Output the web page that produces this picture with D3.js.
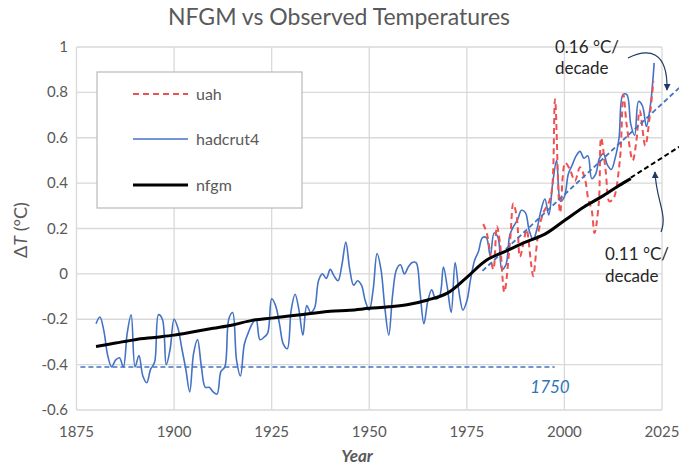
<!DOCTYPE html>
<html>
<head>
<meta charset="utf-8">
<script src="https://cdn.jsdelivr.net/npm/d3@7"></script>
<style>
body{margin:0;background:#fff}
svg text{font-family:Lato,"Open Sans",sans-serif;fill:#595959}
</style>
</head>
<body>
<svg id="chart" width="679" height="468"></svg>
<script>
// hadcrut4 annual anomaly, 1880..2023
var hadcrutFirstYear = 1880;
var hadcrutValues = [
 -0.22,-0.19,-0.25,-0.36,-0.41,-0.38,-0.37,-0.41,-0.26,-0.18,
 -0.41,-0.36,-0.45,-0.48,-0.42,-0.39,-0.18,-0.20,-0.40,-0.33,
 -0.20,-0.24,-0.33,-0.42,-0.52,-0.35,-0.29,-0.41,-0.50,-0.50,
 -0.52,-0.53,-0.43,-0.41,-0.20,-0.17,-0.38,-0.45,-0.31,-0.26,
 -0.22,-0.20,-0.29,-0.28,-0.26,-0.11,-0.14,-0.22,-0.31,-0.33,
 -0.16,-0.09,-0.16,-0.27,-0.14,-0.17,-0.15,-0.03,0.00,-0.02,
 0.02,-0.01,-0.03,0.04,0.14,0.02,-0.05,-0.03,-0.05,-0.12,
 -0.16,-0.07,0.09,0.02,-0.15,-0.27,-0.09,0.02,0.04,0.00,
 0.03,0.05,0.05,-0.08,-0.22,-0.12,-0.07,-0.11,-0.10,0.03,
 -0.06,-0.17,0.05,-0.08,-0.16,-0.12,-0.02,0.06,0.10,0.16,
 0.16,0.08,0.18,0.16,0.02,0.04,0.17,0.21,0.24,0.28,
 0.27,0.19,0.15,0.20,0.28,0.33,0.26,0.40,0.50,0.32,
 0.34,0.44,0.48,0.52,0.54,0.51,0.52,0.42,0.44,0.51,
 0.53,0.48,0.46,0.51,0.60,0.79,0.79,0.66,0.61,0.76,
 0.74,0.65,0.74,0.93
];
// uah (satellite), positions as read
var uahYears = [1979.2,1980.1,1981.8,1982.7,1983.5,1984.6,1986.1,1986.9,1987.8,1988.6,
 1989.5,1990.3,1991.5,1992.0,1993.3,1994.6,1995.9,1996.8,1997.6,1998.9,
 2000.2,2001.4,2002.7,2004.0,2005.3,2006.1,2007.0,2007.7,2008.8,2009.4,
 2010.6,2011.5,2012.5,2014.2,2015.1,2016.0,2017.5,2018.4,2019.3,2020.7,
 2021.8,2022.8];
var uahValues = [0.22,0.18,0.02,0.21,0.135,-0.08,0.15,0.31,0.25,0.075,
 0.135,0.195,0.04,-0.01,0.18,0.27,0.31,0.37,0.77,0.27,
 0.49,0.46,0.41,0.47,0.415,0.33,0.28,0.18,0.31,0.60,
 0.45,0.32,0.33,0.50,0.79,0.65,0.50,0.58,0.72,0.565,
 0.685,0.85];
// nfgm model
var nfgmYears = [1880,1885,1890,1895,1900,1905,1910,1915,1920,1925,1930,1935,1940,1945,
 1950,1955,1960,1965,1970,1975,1980,1985,1990,1995,2000,2005,2010,2015,2017];
var nfgmValues = [-0.32,-0.305,-0.29,-0.28,-0.27,-0.255,-0.24,-0.225,-0.205,-0.195,-0.185,-0.175,-0.165,-0.16,
 -0.152,-0.145,-0.135,-0.115,-0.085,-0.015,0.06,0.10,0.14,0.175,0.235,0.295,0.345,0.40,0.42];
// trend lines (start year, end year, start value, end value)
var hadTrend = [1979, 2029.4, 0.013, 0.82];
var nfgmTrend = [2017, 2029.4, 0.424, 0.56];
// 1750 reference level
var level1750 = -0.41, level1750Span = [1876, 1997.5];
var xTicks = [1875,1900,1925,1950,1975,2000,2025];
var yTicks = [-0.6,-0.4,-0.2,0,0.2,0.4,0.6,0.8,1];

var svg = d3.select("#chart");
var x = d3.scaleLinear().domain([1875, 2025]).range([76.5, 662]);
var y = d3.scaleLinear().domain([-0.6, 1]).range([410, 47]);

var grid = svg.append("g");
grid.selectAll(".hg").data(yTicks).enter().append("line")
    .attr("x1", x(1875)).attr("x2", x(2025))
    .attr("y1", function(d){return y(d);}).attr("y2", function(d){return y(d);})
    .attr("stroke", "#d9d9d9").attr("stroke-width", 1.3);
grid.selectAll(".vg").data(xTicks).enter().append("line")
    .attr("x1", function(d){return x(d);}).attr("x2", function(d){return x(d);})
    .attr("y1", y(1)).attr("y2", y(-0.6))
    .attr("stroke", "#d9d9d9").attr("stroke-width", 1.3);

// tick labels
svg.append("g").selectAll("text").data(yTicks).enter().append("text")
    .attr("x", 68).attr("y", function(d){return y(d) + 5;})
    .attr("text-anchor", "end").style("font-size", "15px")
    .text(function(d){return String(+d.toFixed(1));});
svg.append("g").selectAll("text").data(xTicks).enter().append("text")
    .attr("x", function(d){return x(d);}).attr("y", 437)
    .attr("text-anchor", "middle").style("font-size", "15px")
    .text(function(d){return d;});

svg.append("text").attr("x", 339).attr("y", 25).attr("text-anchor", "middle")
    .style("font-size", "23px").text("NFGM vs Observed Temperatures");
svg.append("text").attr("x", 357).attr("y", 462).attr("text-anchor", "middle")
    .style("font-size", "17px").style("font-weight", "bold").style("font-style", "italic")
    .text("Year");
var yt = svg.append("text").attr("transform", "translate(27,230) rotate(-90)")
    .attr("text-anchor", "middle").style("font-size", "18px");
yt.append("tspan").text("\u0394");
yt.append("tspan").style("font-style", "italic").text("T");
yt.append("tspan").text(" (\u00B0C)");

// 1750 dashed level
svg.append("line")
    .attr("x1", x(level1750Span[0])).attr("x2", x(level1750Span[1]))
    .attr("y1", y(level1750)).attr("y2", y(level1750))
    .attr("stroke", "#4472c4").attr("stroke-width", 1.5).attr("stroke-dasharray", "5,3");
svg.append("text").attr("x", 550).attr("y", 393).attr("text-anchor", "middle")
    .style("font-size", "17px").style("font-style", "italic").style("fill", "#2e75b6")
    .text("1750");

var line = d3.line()
    .x(function(d){return x(d[0]);})
    .y(function(d){return y(d[1]);})
    .curve(d3.curveCatmullRom.alpha(0.5));

var hadData = hadcrutValues.map(function(v, i){return [hadcrutFirstYear + i, v];});
var uahData = uahYears.map(function(yr, i){return [yr, uahValues[i]];});
var nfgmData = nfgmYears.map(function(yr, i){return [yr, nfgmValues[i]];});

svg.append("path").attr("d", line(hadData)).attr("fill", "none")
    .attr("stroke", "#4472c4").attr("stroke-width", 1.6);
svg.append("path").attr("d", line(uahData)).attr("fill", "none")
    .attr("stroke", "#f05050").attr("stroke-width", 2).attr("stroke-dasharray", "6,4");

// trends
svg.append("line")
    .attr("x1", x(hadTrend[0])).attr("y1", y(hadTrend[2]))
    .attr("x2", x(hadTrend[1])).attr("y2", y(hadTrend[3]))
    .attr("stroke", "#4472c4").attr("stroke-width", 1.8).attr("stroke-dasharray", "5,3");
svg.append("path").attr("d", line(nfgmData)).attr("fill", "none")
    .attr("stroke", "#000").attr("stroke-width", 3).attr("stroke-linejoin", "round");
svg.append("line")
    .attr("x1", x(nfgmTrend[0])).attr("y1", y(nfgmTrend[2]))
    .attr("x2", x(nfgmTrend[1])).attr("y2", y(nfgmTrend[3]))
    .attr("stroke", "#000").attr("stroke-width", 2).attr("stroke-dasharray", "5,3");

// legend
var lg = svg.append("g");
lg.append("rect").attr("x", 97).attr("y", 72).attr("width", 205).attr("height", 136)
    .attr("fill", "#fff").attr("stroke", "#bfbfbf").attr("stroke-width", 1.3);
var legendItems = [
  {name: "uah", color: "#f05050", width: 2, dash: "6,4", ly: 94},
  {name: "hadcrut4", color: "#4472c4", width: 1.6, dash: null, ly: 139},
  {name: "nfgm", color: "#000", width: 3, dash: null, ly: 185}
];
legendItems.forEach(function(it){
    lg.append("line").attr("x1", 133).attr("x2", 188).attr("y1", it.ly).attr("y2", it.ly)
      .attr("stroke", it.color).attr("stroke-width", it.width)
      .attr("stroke-dasharray", it.dash);
    lg.append("text").attr("x", 196).attr("y", it.ly + 6).style("font-size", "16px").text(it.name);
});

// annotations
var defs = svg.append("defs");
defs.append("marker").attr("id", "arr").attr("viewBox", "0 0 10 10")
    .attr("refX", 9).attr("refY", 5).attr("markerWidth", 7).attr("markerHeight", 7)
    .attr("orient", "auto").attr("markerUnits", "userSpaceOnUse")
    .append("path").attr("d", "M0,0L10,5L0,10Z").attr("fill", "#1f3864");
svg.append("path").attr("d", "M628,58 C648,48 668,50 667,90")
    .attr("fill", "none").attr("stroke", "#1f3864").attr("stroke-width", 1.2)
    .attr("marker-end", "url(#arr)");
svg.append("path").attr("d", "M661,232 C668,215 656,200 655,172")
    .attr("fill", "none").attr("stroke", "#1f3864").attr("stroke-width", 1.2)
    .attr("marker-end", "url(#arr)");
var ann = [["0.16 \u00B0C/", 555, 53], ["decade", 555, 74], ["0.11 \u00B0C/", 605, 260], ["decade", 605, 282]];
ann.forEach(function(a){
    svg.append("text").attr("x", a[1]).attr("y", a[2]).style("font-size", "17px")
      .style("fill", "#262626").text(a[0]);
});
</script>
</body>
</html>
